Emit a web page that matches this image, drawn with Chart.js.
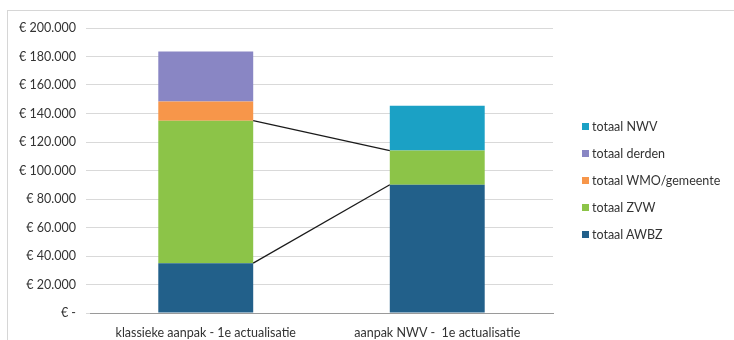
<!DOCTYPE html>
<html lang="nl">
<head>
    <meta charset="UTF-8">
    <title>Kosten per aanpak</title>
    <style>
body {
    margin: 0;
    padding: 0;
    background-color: #fff;
    font-family: 'Lato', sans-serif;
}

#wrap {
    position: relative;
    width: 734px;
    height: 340px;
    overflow: hidden;
}

#frame {
    position: absolute;
    left: 7px;
    top: 10px;
    width: 740px;
    height: 340px;
    border: 1px solid #d6d6d6;
}

#costChart {
    position: absolute;
    left: 0;
    top: 0;
}

#legend {
    position: absolute;
    left: 582px;
    top: 118px;
    margin: 0;
    padding: 0;
    list-style: none;
}

#legend li {
    height: 27px;
    line-height: 18px;
    font-size: 12.5px;
    color: #333;
    white-space: nowrap;
}

#legend span {
    display: inline-block;
    width: 7px;
    height: 7px;
    margin-right: 3px;
    vertical-align: 1px;
}
    </style>
</head>
<body>
    <div id="wrap">
        <div id="frame"></div>
        <canvas id="costChart" width="734" height="340"></canvas>
        <ul id="legend"></ul>
    </div>

    <script src="https://cdn.jsdelivr.net/npm/chart.js"></script>
    <script>
        // Data
        const categories = ['klassieke aanpak - 1e actualisatie', 'aanpak NWV -  1e actualisatie'];
        const seriesNames = ['totaal AWBZ', 'totaal ZVW', 'totaal WMO/gemeente', 'totaal derden', 'totaal NWV'];
        const awbz = [35000, 90000];
        const zvw = [100000, 24000];
        const wmo = [13500, 0];
        const derden = [35000, 0];
        const nwv = [0, 31500];
        const yTicks = [0, 20000, 40000, 60000, 80000, 100000, 120000, 140000, 160000, 180000, 200000];

        const colors = ['#22608a', '#8cc448', '#f7964a', '#8986c4', '#1ba1c5'];
        const values = [awbz, zvw, wmo, derden, nwv];

        const datasets = seriesNames.map((name, i) => ({
            label: name,
            data: values[i],
            backgroundColor: colors[i],
            borderWidth: 0,
            barPercentage: 0.41,
            categoryPercentage: 1.0
        }));

        // format like "€ 120.000", zero shown as "€ -"
        function euro(v) {
            if (v === 0) return '€ -';
            return '€ ' + v.toString().replace(/\B(?=(\d{3})+(?!\d))/g, '.');
        }

        // Excel style series lines between the stacked segments
        const seriesLines = {
            id: 'seriesLines',
            afterDatasetsDraw(chart) {
                const ctx = chart.ctx;
                ctx.save();
                ctx.strokeStyle = '#1a1a1a';
                ctx.lineWidth = 1.2;
                [0, 1].forEach(di => {
                    const els = chart.getDatasetMeta(di).data;
                    const a = els[0], b = els[1];
                    ctx.beginPath();
                    ctx.moveTo(a.x + a.width / 2, a.y);
                    ctx.lineTo(b.x - b.width / 2, b.y);
                    ctx.stroke();
                });
                ctx.restore();
            }
        };

        const chart = new Chart(document.getElementById('costChart'), {
            type: 'bar',
            data: { labels: categories, datasets: datasets },
            options: {
                responsive: false,
                animation: false,
                layout: { padding: { top: 28, right: 181, bottom: 0, left: 0 } },
                plugins: {
                    legend: { display: false },
                    tooltip: { enabled: false }
                },
                scales: {
                    x: {
                        stacked: true,
                        grid: { display: false, drawTicks: true },
                        border: { color: '#9a9a9a' },
                        ticks: {
                            color: '#333',
                            font: { family: 'Lato', size: 12.5 },
                            padding: 4,
                            maxRotation: 0
                        },
                        afterFit(scale) { scale.height = 27; }
                    },
                    y: {
                        stacked: true,
                        min: 0,
                        max: 200000,
                        afterBuildTicks(scale) {
                            scale.ticks = yTicks.map(v => ({ value: v }));
                        },
                        grid: { color: '#d9d9d9', tickLength: 4 },
                        border: { display: false },
                        ticks: {
                            color: '#333',
                            font: { family: 'Lato', size: 12.5 },
                            padding: 10,
                            callback: v => euro(v)
                        },
                        afterFit(scale) { scale.width = 90; }
                    }
                }
            },
            plugins: [seriesLines]
        });

        // legend on the right, listed top series first
        const legend = document.getElementById('legend');
        seriesNames.slice().reverse().forEach((name, k) => {
            const i = seriesNames.length - 1 - k;
            const li = document.createElement('li');
            li.innerHTML = '<span style="background:' + colors[i] + '"></span>' + name;
            legend.appendChild(li);
        });
    </script>
</body>
</html>
